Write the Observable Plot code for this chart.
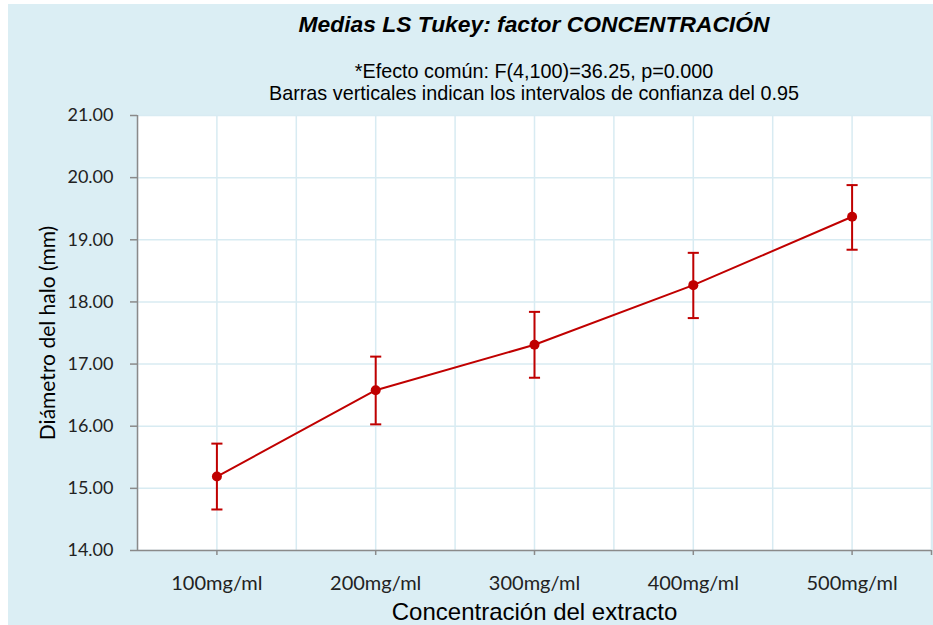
<!DOCTYPE html>
<html>
<head>
<meta charset="utf-8">
<script src="https://cdn.jsdelivr.net/npm/d3@7"></script>
<script src="https://cdn.jsdelivr.net/npm/@observablehq/plot@0.6"></script>
<style>
  html, body { margin: 0; padding: 0; background: #ffffff; }
  #wrap { position: absolute; left: 8px; top: 4px; width: 925px; height: 621px; background: #dbeef4; overflow: hidden; }
  #head { height: 91px; position: relative; }
  .t { position: absolute; left: 129px; right: 2px; text-align: center; font-family: "Liberation Sans", Arial, sans-serif; color: #000; white-space: nowrap; line-height: 1; }
  #title { top: 9px; font-size: 22.8px; font-weight: bold; font-style: italic; }
  #sub1 { top: 58px; font-size: 19.8px; }
  #sub2 { top: 80px; font-size: 19.8px; }
  svg { display: block; }
</style>
</head>
<body>
<div id="wrap">
  <div id="head">
    <div class="t" id="title">Medias LS Tukey: factor CONCENTRACIÓN</div>
    <div class="t" id="sub1">*Efecto común: F(4,100)=36.25, p=0.000</div>
    <div class="t" id="sub2">Barras verticales indican los intervalos de confianza del 0.95</div>
  </div>
  <div id="chart"></div>
</div>
<script>
const categories = ["100mg/ml", "200mg/ml", "300mg/ml", "400mg/ml", "500mg/ml"];
const means = [15.19, 16.58, 17.31, 18.27, 19.37];
const lower = [14.66, 16.03, 16.78, 17.74, 18.84];
const upper = [15.72, 17.12, 17.84, 18.79, 19.88];
const yTicks = [14, 15, 16, 17, 18, 19, 20, 21];
const yLabel = "Diámetro del halo (mm)";
const xLabel = "Concentración del extracto";

const data = categories.map((c, i) => ({cat: c, pos: i + 1, mean: means[i], lo: lower[i], hi: upper[i]}));
const xGrid = d3.range(0.5, categories.length + 0.51, 0.5);
const capHalf = 0.035;
const red = "#c00000";
const grey = "#8a8a8a";
const gridColor = "#d8ebf2";

const chart = Plot.plot({
  width: 925,
  height: 530,
  marginLeft: 129,
  marginRight: 2,
  marginTop: 20,
  marginBottom: 75,
  style: {background: "transparent", fontFamily: "Lato, sans-serif", overflow: "visible"},
  x: {type: "linear", domain: [0.5, categories.length + 0.5]},
  y: {domain: [14, 21]},
  marks: [
    Plot.frame({fill: "white", stroke: null}),
    Plot.ruleX(xGrid, {stroke: gridColor, strokeWidth: 1.5}),
    Plot.ruleY(yTicks, {stroke: gridColor, strokeWidth: 1.5}),
    Plot.axisY({ticks: yTicks, tickFormat: d3.format(".2f"), tickSize: 7, tickPadding: 17, stroke: grey, strokeWidth: 1.5, fontSize: 18, fill: "#222", label: null}),
    Plot.axisX({ticks: [1, 2, 3, 4, 5, 5.5], tickFormat: d => Number.isInteger(d) ? categories[d - 1] : "", tickSize: 5, tickPadding: 20, stroke: grey, strokeWidth: 1.5, fontSize: 20, fill: "#222", label: null}),
    Plot.ruleX([0.5], {stroke: grey, strokeWidth: 1.5}),
    Plot.ruleY([14], {stroke: grey, strokeWidth: 1.5}),
    Plot.ruleX(data, {x: "pos", y1: "lo", y2: "hi", stroke: red, strokeWidth: 2}),
    Plot.link(data, {x1: d => d.pos - capHalf, x2: d => d.pos + capHalf, y1: "hi", y2: "hi", stroke: red, strokeWidth: 2}),
    Plot.link(data, {x1: d => d.pos - capHalf, x2: d => d.pos + capHalf, y1: "lo", y2: "lo", stroke: red, strokeWidth: 2}),
    Plot.line(data, {x: "pos", y: "mean", stroke: red, strokeWidth: 2}),
    Plot.dot(data, {x: "pos", y: "mean", r: 5, fill: red, stroke: null}),
    Plot.text([yLabel], {frameAnchor: "left", dx: -89, rotate: -90, fontSize: 21, fill: "#000", lineAnchor: "middle", textAnchor: "middle"}),
    Plot.text([xLabel], {frameAnchor: "bottom", dy: 62, fontSize: 24, fill: "#000", lineAnchor: "middle", fontFamily: "Liberation Sans, Arial, sans-serif"})
  ]
});
document.getElementById("chart").appendChild(chart);
</script>
</body>
</html>
